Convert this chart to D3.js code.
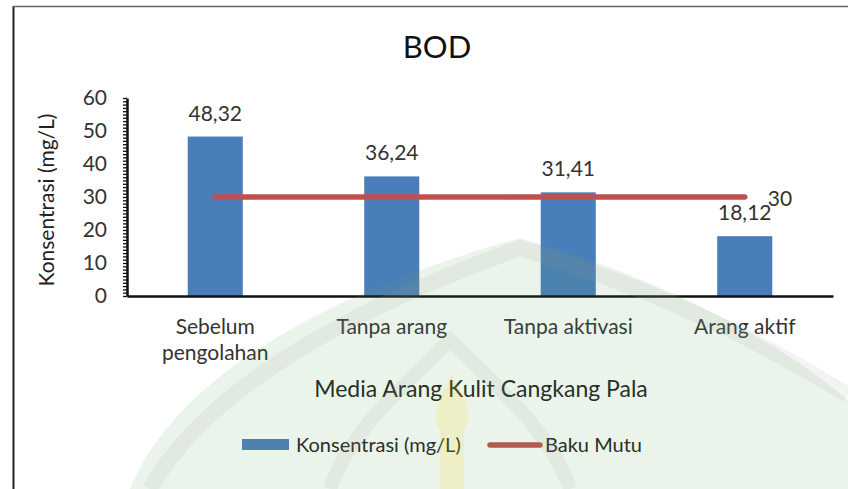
<!DOCTYPE html>
<html>
<head>
<meta charset="utf-8">
<script src="https://cdn.jsdelivr.net/npm/d3@7"></script>
<style>
  html, body { margin: 0; padding: 0; background: #fff; }
  svg { display: block; font-family: Lato, "Open Sans", sans-serif; }
</style>
</head>
<body>
<svg id="chart" width="848" height="489"></svg>
<script>
// data
var categories = ["Sebelum pengolahan", "Tanpa arang", "Tanpa aktivasi", "Arang aktif"];
var konsentrasi = [48.32, 36.24, 31.41, 18.12];
var bakuMutu = [30, 30, 30, 30];
var yTicks = [0, 10, 20, 30, 40, 50, 60];

var svg = d3.select("#chart");
var W = 848, H = 489;
var margin = {left: 127, right: 15, top: 98, bottom: 193};

var x = d3.scaleBand()
	.domain(categories)
	.range([margin.left, W - margin.right])
	.padding(0);

var y = d3.scaleLinear()
	.domain([0, 60])
	.range([H - margin.bottom, margin.top]);

var fmt = function (v) { return d3.format(".2f")(v).replace(".", ","); };
var cx = function (d) { return x(d) + x.bandwidth() / 2; };
var barW = x.bandwidth() * 0.312;

// frame of the chart area
svg.append("line").attr("x1", 13.5).attr("x2", 13.5).attr("y1", 6).attr("y2", H)
	.attr("stroke", "#222").attr("stroke-width", 2);
svg.append("line").attr("x1", 13).attr("x2", W).attr("y1", 6.5).attr("y2", 6.5)
	.attr("stroke", "#666").attr("stroke-width", 1.5);

// title
svg.append("text")
	.attr("x", 437).attr("y", 58)
	.attr("text-anchor", "middle")
	.attr("font-size", 31)
	.attr("fill", "#111")
	.text("BOD");

// bars
svg.append("g").selectAll("rect")
	.data(categories)
	.enter().append("rect")
	.attr("x", function (d) { return cx(d) - barW / 2; })
	.attr("y", function (d, i) { return y(konsentrasi[i]); })
	.attr("width", barW)
	.attr("height", function (d, i) { return y(0) - y(konsentrasi[i]); })
	.attr("fill", "#4a7ebb");

// bar value labels
svg.append("g").selectAll("text")
	.data(categories)
	.enter().append("text")
	.attr("x", function (d) { return cx(d); })
	.attr("y", function (d, i) { return y(konsentrasi[i]) - 16; })
	.attr("text-anchor", "middle")
	.attr("font-size", 21)
	.attr("fill", "#333")
	.text(function (d, i) { return fmt(konsentrasi[i]); });

// baku mutu line
var line = d3.line()
	.x(function (d, i) { return cx(categories[i]); })
	.y(function (d) { return y(d); });

svg.append("path")
	.datum(bakuMutu)
	.attr("d", line)
	.attr("fill", "none")
	.attr("stroke", "#c0504d")
	.attr("stroke-width", 5.5)
	.attr("stroke-linecap", "round");

var last = bakuMutu.length - 1;
svg.append("text")
	.attr("x", cx(categories[last]) + 23)
	.attr("y", y(bakuMutu[last]) + 9)
	.attr("font-size", 21)
	.attr("fill", "#333")
	.text(bakuMutu[last]);

// y axis: minor ticks
var minor = d3.axisLeft(y)
	.tickValues(d3.range(0, 61, 1))
	.tickSize(4)
	.tickFormat("");
var gMinor = svg.append("g")
	.attr("transform", "translate(" + margin.left + ",0)")
	.call(minor);
gMinor.select(".domain").remove();
gMinor.selectAll(".tick line").attr("stroke", "#111").attr("stroke-width", 1.3);

// y axis: labels
var yAxis = d3.axisLeft(y)
	.tickValues(yTicks)
	.tickSize(0)
	.tickPadding(20);
var gY = svg.append("g")
	.attr("transform", "translate(" + margin.left + ",0)")
	.call(yAxis);
gY.select(".domain").attr("stroke", "#111").attr("stroke-width", 2.5);
gY.selectAll(".tick text")
	.attr("font-family", "Lato, sans-serif")
	.attr("font-size", 21)
	.attr("fill", "#333");

// x axis
var xAxis = d3.axisBottom(x).tickSize(0).tickPadding(0).tickFormat("");
var gX = svg.append("g")
	.attr("transform", "translate(0," + y(0) + ")")
	.call(xAxis);
gX.select(".domain").attr("stroke", "#111").attr("stroke-width", 2.5);

// category labels, wrapped like the original
var catG = svg.append("g").selectAll("text")
	.data(categories)
	.enter().append("text")
	.attr("text-anchor", "middle")
	.attr("font-size", 21)
	.attr("fill", "#333")
	.attr("x", function (d) { return cx(d); })
	.attr("y", y(0) + 38);

catG.each(function (d) {
	var t = d3.select(this);
	var words = d.split(" ");
	var lines = d.length > 15 ? words : [d];
	lines.forEach(function (w, k) {
		t.append("tspan")
			.attr("x", cx(d))
			.attr("dy", k === 0 ? 0 : 26)
			.text(w);
	});
});

// axis titles
svg.append("text")
	.attr("transform", "translate(54,200) rotate(-90)")
	.attr("text-anchor", "middle")
	.attr("font-size", 21)
	.attr("fill", "#222")
	.text("Konsentrasi (mg/L)");

svg.append("text")
	.attr("x", 481).attr("y", 397)
	.attr("text-anchor", "middle")
	.attr("font-size", 23)
	.attr("fill", "#222")
	.text("Media Arang Kulit Cangkang Pala");

// legend
var lg = svg.append("g");
lg.append("rect").attr("x", 242).attr("y", 439).attr("width", 47).attr("height", 11).attr("fill", "#4a7ebb");
lg.append("text").attr("x", 296).attr("y", 452).attr("font-size", 20).attr("fill", "#222").text("Konsentrasi (mg/L)");
lg.append("line").attr("x1", 490).attr("x2", 540).attr("y1", 445).attr("y2", 445)
	.attr("stroke", "#c0504d").attr("stroke-width", 5.5).attr("stroke-linecap", "round");
lg.append("text").attr("x", 545).attr("y", 452).attr("font-size", 20).attr("fill", "#222").text("Baku Mutu");

// faint watermark on top of the chart
var wm = svg.append("g").attr("pointer-events", "none");
wm.append("path")
	.attr("d", "M130,489 C170,390 300,300 520,238 C700,290 800,360 848,400 L848,489 Z")
	.attr("fill", "#5aa84f").attr("opacity", 0.12);
wm.append("path")
	.attr("d", "M150,489 C200,400 320,320 520,248 C690,300 790,360 848,395")
	.attr("fill", "none").attr("stroke", "#999").attr("stroke-width", 16).attr("opacity", 0.12);
wm.append("path")
	.attr("d", "M330,489 C350,430 400,390 450,340 C500,390 550,430 570,489")
	.attr("fill", "none").attr("stroke", "#999").attr("stroke-width", 14).attr("opacity", 0.12);
wm.append("path")
	.attr("d", "M440,489 L440,430 C430,415 440,395 452,375 C464,395 474,415 464,430 L464,489 Z")
	.attr("fill", "#f5d800").attr("opacity", 0.15);
</script>
</body>
</html>
